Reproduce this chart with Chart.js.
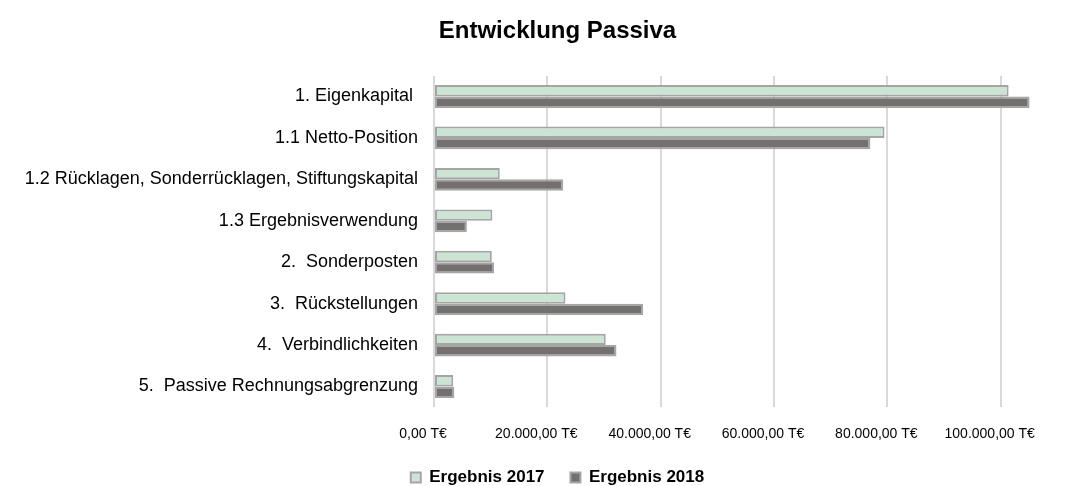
<!DOCTYPE html>
<html>
<head>
<meta charset="utf-8">
<script src="https://cdn.jsdelivr.net/npm/chart.js@4"></script>
<style>
  body { margin: 0; background: #fff; }
</style>
</head>
<body>
<canvas id="passiva" width="1065" height="486"></canvas>
<script>
const categories = [
  "1. Eigenkapital ",
  "1.1 Netto-Position",
  "1.2 Rücklagen, Sonderrücklagen, Stiftungskapital",
  "1.3 Ergebnisverwendung",
  "2.  Sonderposten",
  "3.  Rückstellungen",
  "4.  Verbindlichkeiten",
  "5.  Passive Rechnungsabgrenzung",
];
const values2017 = [101400, 79500, 11600, 10300, 10200, 23200, 30300, 3400];
const values2018 = [105100, 77000, 22800, 5800, 10600, 36900, 32200, 3600];
const tickValues = [0, 20000, 40000, 60000, 80000, 100000];

function formatEuro(v) {
  return v.toLocaleString("de-DE", { minimumFractionDigits: 2, maximumFractionDigits: 2 }) + " T€";
}

Chart.defaults.font.family = "Liberation Sans, Arial, sans-serif";
Chart.defaults.color = "#000";

// title and legend sit a bit right of the canvas centre in the original
const shiftBlocks = {
  id: "shiftBlocks",
  afterLayout(chart) {
    if (chart.titleBlock) chart.titleBlock.left += 52;
    if (chart.legend) chart.legend.left += 52;
  },
};

new Chart(document.getElementById("passiva"), {
  type: "bar",
  data: {
    labels: categories,
    datasets: [
      {
        label: "Ergebnis 2017",
        data: values2017,
        backgroundColor: "#cbe4d3",
        borderColor: "#a5a5a5",
        borderWidth: 2,
        borderSkipped: false,
        barPercentage: 1,
        categoryPercentage: 0.55,
      },
      {
        label: "Ergebnis 2018",
        data: values2018,
        backgroundColor: "#747070",
        borderColor: "#a5a5a5",
        borderWidth: 2,
        borderSkipped: false,
        barPercentage: 1,
        categoryPercentage: 0.55,
      },
    ],
  },
  options: {
    indexAxis: "y",
    responsive: false,
    animation: false,
    layout: { padding: { left: 0, right: 2, top: 8, bottom: -10 } },
    scales: {
      x: {
        min: 0,
        max: 108800,
        afterBuildTicks: (axis) => {
          axis.ticks = tickValues.map((v) => ({ value: v }));
        },
        ticks: {
          font: { size: 14 },
          maxRotation: 0,
          autoSkip: false,
          padding: 19,
          labelOffset: -11,
          callback: (v) => formatEuro(v),
        },
        grid: { color: "#d9d9d9", lineWidth: 2, drawTicks: false },
        border: { display: false },
      },
      y: {
        afterFit: (scale) => {
          scale.width = 434;
        },
        ticks: { font: { size: 18 }, padding: 8 },
        grid: { display: false },
        border: { display: false },
      },
    },
    plugins: {
      title: {
        display: true,
        text: "Entwicklung Passiva",
        font: { size: 24, weight: "bold" },
        color: "#000",
        padding: { top: 9, bottom: 30 },
      },
      legend: {
        position: "bottom",
        labels: {
          font: { size: 17, weight: "bold" },
          boxWidth: 10,
          boxHeight: 10,
          padding: 7,
          generateLabels: (chart) => {
            const items = Chart.defaults.plugins.legend.labels.generateLabels(chart);
            items.forEach((item, i) => {
              if (i < items.length - 1) item.text += "    ";
            });
            return items;
          },
        },
      },
      tooltip: { enabled: false },
    },
  },
  plugins: [shiftBlocks],
});
</script>
</body>
</html>
